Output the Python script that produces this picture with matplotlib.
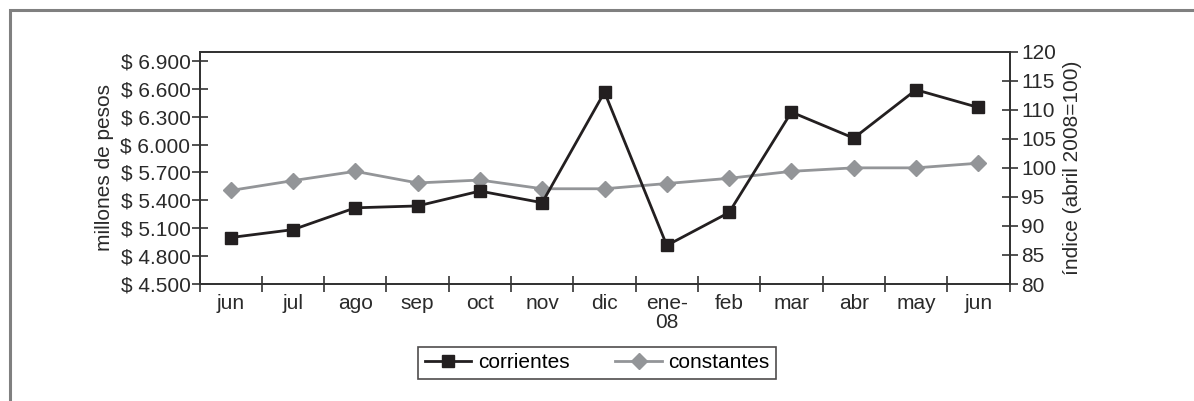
import matplotlib.pyplot as plt
from matplotlib.patches import Rectangle
from matplotlib.ticker import FixedLocator, FuncFormatter

# datos
meses = ["jun", "jul", "ago", "sep", "oct", "nov", "dic", "ene-\n08",
         "feb", "mar", "abr", "may", "jun"]
corrientes = [5000, 5085, 5320, 5340, 5500, 5375, 6565, 4915,
              5270, 6350, 6070, 6590, 6400]
constantes = [96.1, 97.8, 99.4, 97.4, 97.9, 96.4, 96.4, 97.3,
              98.2, 99.4, 100.0, 100.0, 100.8]

ticks_izq = [4500, 4800, 5100, 5400, 5700, 6000, 6300, 6600, 6900]
ticks_der = [80, 85, 90, 95, 100, 105, 110, 115, 120]

NEGRO = "#231f20"
GRIS = "#939598"
TEXTO = "#2a2a2a"

plt.rcParams["font.family"] = ["Liberation Sans", "DejaVu Sans"]
plt.rcParams["font.size"] = 15

fig = plt.figure(figsize=(11.94, 4.01), dpi=100)
W, H = 1194, 401

# marco exterior gris
fig.patches.append(Rectangle((9.5 / W, -0.1), 1.2, 1 - 10 / H + 0.1,
                             transform=fig.transFigure, fill=False,
                             edgecolor="#808080", linewidth=2.2))

ax = fig.add_axes([199.5 / W, 1 - 284 / H, (1009.5 - 199.5) / W, (284 - 51.7) / H])
ax2 = ax.twinx()

x = list(range(len(meses)))

l1, = ax.plot(x, corrientes, color=NEGRO, linewidth=2, marker="s",
              markersize=9, markerfacecolor=NEGRO, markeredgecolor=NEGRO,
              label="corrientes", zorder=3)
l2, = ax2.plot(x, constantes, color=GRIS, linewidth=2, marker="D",
               markersize=8, markerfacecolor=GRIS, markeredgecolor=GRIS,
               label="constantes", zorder=2)
ax.set_zorder(ax2.get_zorder() + 1)
ax.patch.set_visible(False)

ax.set_xlim(-0.5, len(meses) - 0.5)
ax.set_ylim(4500, 7000)
ax2.set_ylim(80, 120)

ax.set_xticks(x)
ax.set_xticklabels(meses, linespacing=1.0)
ax.xaxis.set_minor_locator(FixedLocator([i - 0.5 for i in range(len(meses) + 1)]))
ax.tick_params(axis="x", which="major", length=0, pad=7)
ax.tick_params(axis="x", which="minor", direction="inout", length=12, width=1.2, color="#333333")

ax.set_yticks(ticks_izq)
ax.yaxis.set_major_formatter(FuncFormatter(lambda v, p: "$ " + f"{int(v):,}".replace(",", ".")))
ax.tick_params(axis="y", direction="inout", length=11, width=1.2, color="#333333", pad=1)

ax2.set_yticks(ticks_der)
ax2.tick_params(axis="y", direction="inout", length=11, width=1.2, color="#333333", pad=3)

for a in (ax, ax2):
    for s in a.spines.values():
        s.set_color("#333333")
        s.set_linewidth(1.3)
    a.tick_params(labelcolor=TEXTO)

ax.set_ylabel("millones de pesos", color=TEXTO, labelpad=5)
ax2.set_ylabel("índice (abril 2008=100)", color=TEXTO, labelpad=5)

fig.legend([l1, l2], ["corrientes", "constantes"], loc="center",
           bbox_to_anchor=(597 / W, 1 - 363 / H), ncol=2, frameon=True,
           fancybox=False, edgecolor="#231f20", handlelength=2.25,
           columnspacing=2.2, borderpad=0.3, handletextpad=0.3,
           borderaxespad=0)
leg = fig.legends[0]
leg.get_frame().set_linewidth(1.2)

fig.savefig("out.png", dpi=100)
